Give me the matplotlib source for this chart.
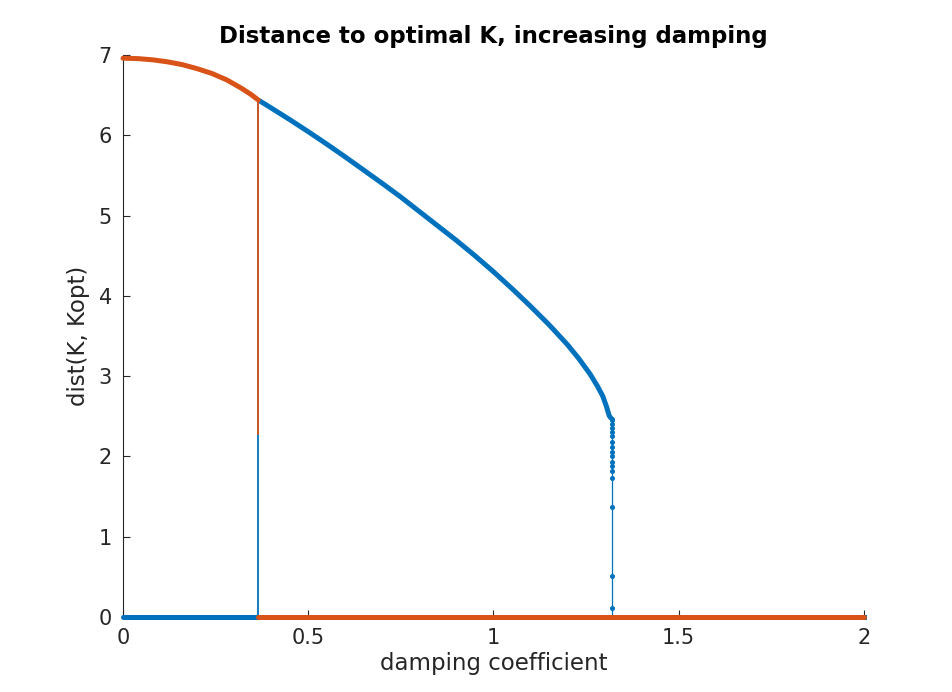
import matplotlib
matplotlib.use("Agg")
import matplotlib.pyplot as plt

plt.rcParams['font.family'] = ['DejaVu Sans']

BLUE = '#0072BD'
ORANGE = '#D95319'

# Orange series: smooth part at start, then jump down, then zero
orange_curve_x = [0.0, 0.04, 0.08, 0.12, 0.16, 0.20, 0.24, 0.28, 0.32, 0.345, 0.365]
orange_curve_y = [6.96, 6.955, 6.94, 6.915, 6.88, 6.83, 6.77, 6.69, 6.585, 6.51, 6.44]
orange_jump_x = [0.365, 0.365]
orange_jump_y = [6.44, 2.28]
orange_zero_x = [0.365, 2.0]
orange_zero_y = [0.0, 0.0]

# Blue series
blue_zero1_x = [0.0, 0.365]
blue_zero1_y = [0.0, 0.0]
blue_jump_x = [0.365, 0.365]
blue_jump_y = [0.0, 6.44]
blue_curve_x = [0.365, 0.40, 0.45, 0.50, 0.55, 0.60, 0.65, 0.70, 0.75, 0.80, 0.85, 0.90,
                0.95, 1.00, 1.05, 1.10, 1.15, 1.20, 1.23, 1.26, 1.28, 1.295, 1.305, 1.312, 1.318]
blue_curve_y = [6.44, 6.34, 6.195, 6.045, 5.89, 5.73, 5.565, 5.40, 5.23, 5.05, 4.87, 4.69,
                4.50, 4.30, 4.09, 3.87, 3.64, 3.39, 3.22, 3.03, 2.88, 2.75, 2.62, 2.51, 2.47]
blue_drop_x = 1.3206
blue_drop_y = [2.47, 2.45, 2.40, 2.35, 2.30, 2.25, 2.18, 2.12, 2.06, 2.00, 1.93, 1.88, 1.82,
               1.73, 1.37, 0.51, 0.11, 0.0]
blue_zero2_x = [1.3206, 2.0]
blue_zero2_y = [0.0, 0.0]

xticks = [0, 0.5, 1, 1.5, 2]
xtick_labels = ['0', '0.5', '1', '1.5', '2']
yticks = [0, 1, 2, 3, 4, 5, 6, 7]

fig = plt.figure(figsize=(9.53, 6.92), dpi=100)
ax = fig.add_axes([123/953, 75/692, (864-123)/953, (617-55)/692])

thick = 3.6
thin = 1.3

# blue
ax.plot(blue_zero1_x, blue_zero1_y, color=BLUE, lw=thick, solid_capstyle='round', clip_on=False, zorder=3)
ax.plot(blue_jump_x, blue_jump_y, color=BLUE, lw=thin, clip_on=False, zorder=3)
ax.plot(blue_curve_x, blue_curve_y, color=BLUE, lw=thick, solid_capstyle='butt',
        solid_joinstyle='round', clip_on=False, zorder=3)
ax.plot([blue_drop_x] * len(blue_drop_y), blue_drop_y, color=BLUE, lw=0.9, marker='o',
        markersize=2.6, clip_on=False, zorder=3)
ax.plot(blue_zero2_x, blue_zero2_y, color=BLUE, lw=thick, clip_on=False, zorder=3)

# orange
ax.plot(orange_curve_x, orange_curve_y, color=ORANGE, lw=thick, solid_capstyle='round',
        solid_joinstyle='round', clip_on=False, zorder=4)
ax.plot(orange_jump_x, orange_jump_y, color=ORANGE, lw=thin, clip_on=False, zorder=4)
ax.plot(orange_zero_x, orange_zero_y, color=ORANGE, lw=thick, solid_capstyle='round', clip_on=False, zorder=4)

ax.set_xlim(0, 2)
ax.set_ylim(0, 7)
ax.set_xticks(xticks)
ax.set_xticklabels(xtick_labels)
ax.set_yticks(yticks)

dark = '#262626'
for s in ['top', 'right']:
    ax.spines[s].set_visible(False)
for s in ['left', 'bottom']:
    ax.spines[s].set_color(dark)
    ax.spines[s].set_linewidth(0.8)
ax.tick_params(direction='in', length=5, width=0.8, color=dark, labelcolor=dark, labelsize=15, pad=8)

ax.set_xlabel('damping coefficient', fontsize=16.5, color=dark, labelpad=3)
ax.set_ylabel('dist(K, Kopt)', fontsize=16.5, color=dark, labelpad=6)
ax.set_title('Distance to optimal K, increasing damping', fontsize=16.5, fontweight='bold', pad=9)

fig.savefig('out.png', dpi=100)
